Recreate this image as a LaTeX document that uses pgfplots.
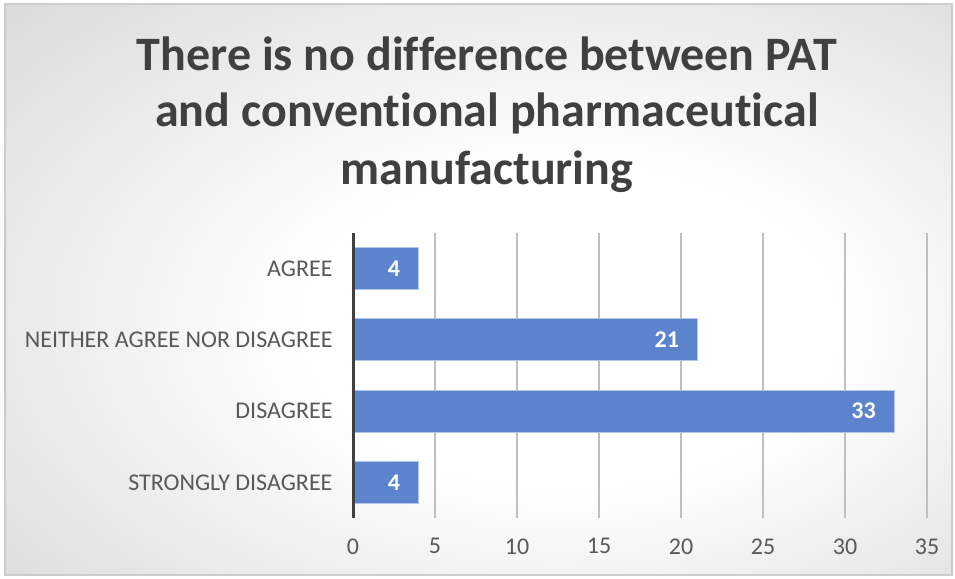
\documentclass[border=0pt]{standalone}
\usepackage{pgfplots}
\pgfplotsset{compat=1.18}
\usepackage{fontspec}
\setmainfont{Carlito}[Ligatures=NoCommon]
\definecolor{titlegray}{HTML}{404040}
\definecolor{labelgray}{HTML}{595959}
\definecolor{barblue}{HTML}{5B84CC}
\definecolor{baredge}{HTML}{B4C6E7}
\definecolor{gridgray}{HTML}{BFBFBF}
\definecolor{axisdark}{HTML}{404040}
\pgfdeclareradialshading{bgshade}{\pgfpoint{6bp}{-4bp}}{color(0bp)=(white); color(14bp)=(white); color(50bp)=(white!79!black); color(72bp)=(white!76!black)}
\pgfplotstableread{
y val
3 4
2 21
1 33
0 4
}\datatab
\begin{document}
\begin{tikzpicture}[x=1pt,y=1pt]
\useasboundingbox (0,0) rectangle (955,578);
\fill[white] (0,0) rectangle (955,578);
\shade[shading=bgshade] (5,3) rectangle (952,574);
\draw[line width=1.2pt, white!80!black] (5,3) rectangle (952,574);
\node[anchor=base, text=titlegray, font=\fontsize{48}{57}\selectfont\bfseries] at (487,507.3) {There is no difference between PAT};
\node[anchor=base, text=titlegray, font=\fontsize{48}{57}\selectfont\bfseries] at (487,451) {and conventional pharmaceutical};
\node[anchor=base, text=titlegray, font=\fontsize{48}{57}\selectfont\bfseries] at (487,393) {manufacturing};
\begin{axis}[
  at={(353pt,60pt)}, anchor=south west,
  scale only axis, width=574pt, height=285pt,
  xbar, bar width=42pt,
  xmin=0, xmax=35, ymin=-0.5, ymax=3.5,
  xtick={0,5,...,35},
  ytick={0,1,2,3},
  yticklabels={STRONGLY DISAGREE, DISAGREE, NEITHER AGREE NOR DISAGREE, AGREE},
  xmajorgrids, major grid style={gridgray, line width=1.3pt},
  axis line style={draw=none},
  major tick length=0pt,
  /pgf/number format/assume math mode=true,
  tick label style={font=\fontsize{24}{28}\selectfont, text=labelgray},
  xticklabel style={yshift=-17pt},
  yticklabel style={xshift=-17pt},
  clip=false,
  nodes near coords,
  nodes near coords style={anchor=east, xshift=-18pt, text=white, font=\fontsize{24}{28}\selectfont\bfseries, inner sep=0pt},
]
\addplot[fill=barblue, draw=baredge, line width=0.9pt] table[x=val, y=y] {\datatab};
\draw[axisdark, line width=3pt] (axis cs:0,-0.5) -- (axis cs:0,3.5);
\end{axis}
\end{tikzpicture}
\end{document}
